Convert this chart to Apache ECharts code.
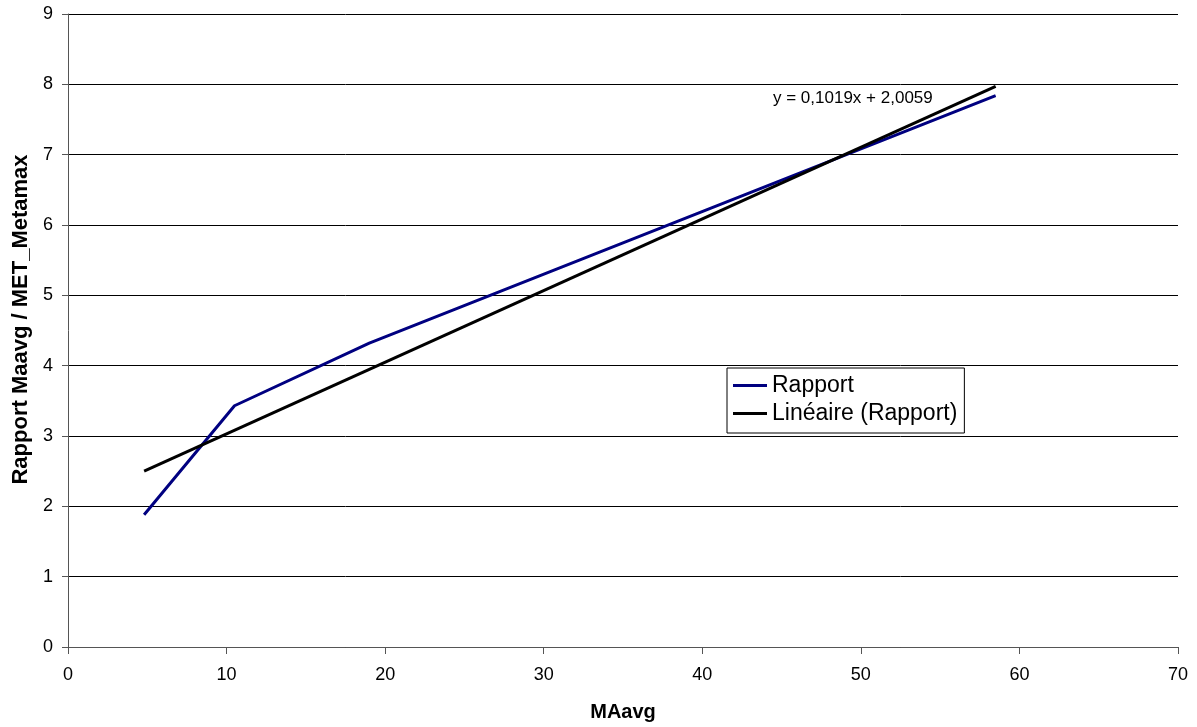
<!DOCTYPE html>
<html><head><meta charset="utf-8">
<script src="https://cdn.jsdelivr.net/npm/echarts@6/dist/echarts.min.js"></script>
<style>html,body{margin:0;padding:0;background:#fff}#c{width:1197px;height:727px}</style>
</head><body><div id="c"></div>
<script>
var rapportX = [4.8, 10.5, 19.0, 58.5];
var rapportY = [1.88, 3.43, 4.32, 7.84];
var trendX = [4.8, 58.5];
var trendY = [2.50, 7.97];
var equationText = 'y = 0,1019x + 2,0059';
var xName = 'MAavg';
var yName = 'Rapport Maavg / MET_Metamax';

var chart = echarts.init(document.getElementById('c'), null, {renderer: 'canvas'});
var font = 'Liberation Sans, Arial, sans-serif';
chart.setOption({
  animation: false,
  backgroundColor: '#fff',
  grid: {left: 68, right: 19, top: 14, bottom: 79, containLabel: false},
  xAxis: {
    type: 'value', min: 0, max: 70, interval: 10,
    name: xName, nameLocation: 'middle', nameGap: 55,
    nameTextStyle: {fontFamily: font, fontSize: 20, fontWeight: 'bold', color: '#000'},
    axisLine: {show: true, onZero: false, lineStyle: {color: '#555', width: 1}},
    axisTick: {show: true, inside: false, length: 7, lineStyle: {color: '#555'}},
    axisLabel: {fontFamily: font, fontSize: 18, color: '#000', margin: 19},
    splitLine: {show: false}
  },
  yAxis: {
    type: 'value', min: 0, max: 9, interval: 1,
    name: yName, nameLocation: 'middle', nameGap: 33,
    nameTextStyle: {fontFamily: font, fontSize: 22, fontWeight: 'bold', color: '#000', padding: [0, 0, 0, 22]},
    axisLine: {show: true, lineStyle: {color: '#555', width: 1}},
    axisTick: {show: true, inside: false, length: 6, lineStyle: {color: '#555'}},
    axisLabel: {fontFamily: font, fontSize: 18, color: '#000', margin: 15},
    splitLine: {show: true, lineStyle: {color: '#000', width: 1}}
  },
  legend: {
    orient: 'vertical', left: 727, top: 368,
    backgroundColor: '#fff',
    borderColor: '#000', borderWidth: 1,
    padding: [6, 7, 8, 6],
    itemGap: 5, itemWidth: 34, itemHeight: 3,
    textStyle: {fontFamily: font, fontSize: 23, color: '#000', lineHeight: 23},
    data: [
      {name: 'Rapport', icon: 'rect'},
      {name: 'Linéaire (Rapport)', icon: 'rect'}
    ]
  },
  series: [
    {
      name: 'Rapport', type: 'line', showSymbol: false, symbol: 'none',
      data: rapportX.map(function(x, i){ return [x, rapportY[i]]; }),
      lineStyle: {color: '#000080', width: 3}, itemStyle: {color: '#000080'}, z: 3
    },
    {
      name: 'Linéaire (Rapport)', type: 'line', showSymbol: false, symbol: 'none',
      data: trendX.map(function(x, i){ return [x, trendY[i]]; }),
      lineStyle: {color: '#000', width: 3}, itemStyle: {color: '#000'}, z: 4
    }
  ],
  graphic: [{
    type: 'text', left: 773, top: 90,
    style: {text: equationText, fontFamily: font, fontSize: 17, fill: '#000'}
  }]
});
</script></body></html>
